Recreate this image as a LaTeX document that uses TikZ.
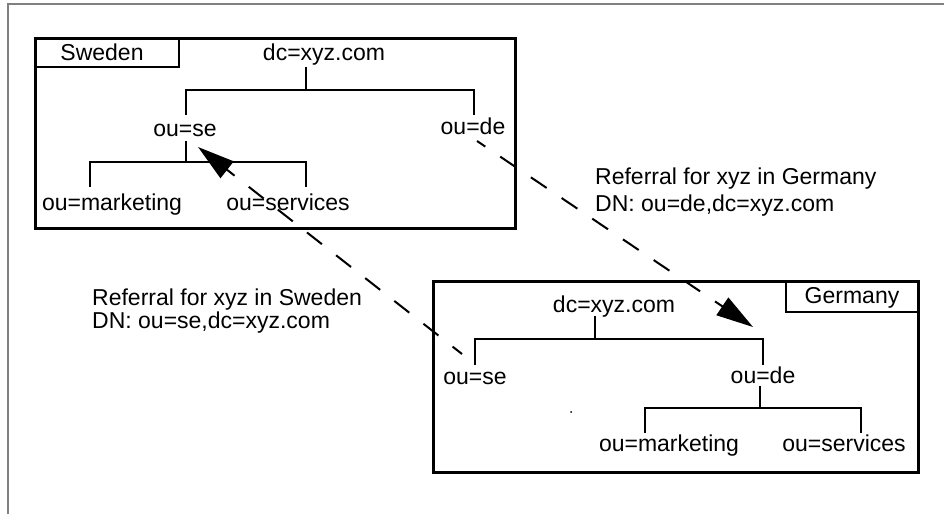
\documentclass[tikz,border=0pt]{standalone}
\usepackage{fontspec}
\setmainfont{Liberation Sans}
\usetikzlibrary{arrows.meta}
\begin{document}
\begin{tikzpicture}[x=1pt,y=-1pt,
  lbl/.style={inner sep=0pt, anchor=base, font=\fontsize{23}{27}\selectfont},
  boxline/.style={line width=3pt},
  tabline/.style={line width=2pt},
  treeline/.style={line width=2pt},
  refline/.style={line width=2pt, dash pattern=on 19pt off 18pt, -{Triangle[length=37pt,width=21pt]}},
  frameline/.style={line width=2pt, draw=black!50}
]
\useasboundingbox (0,0) rectangle (944,514);
\draw[frameline] (8,514) -- (8,4) -- (944,4);

% ---------- Sweden ----------
\draw[boxline] (35,38) rectangle (515,228);
\draw[tabline] (35,38) rectangle (179,67);
\node[lbl] (swe) at (102,60) {Sweden};
\node[lbl] (dcS) at (324,60) {dc=xyz.com};
\node[lbl] (ouseS) at (185,136) {ou=se};
\node[lbl] (oudeS) at (473,134) {ou=de};
\node[lbl] (omkS) at (112,210) {ou=marketing};
\node[lbl] (osvS) at (288,210) {ou=services};
\coordinate (dcSb) at (306,67);
\coordinate (barS1) at (306,90);
\draw[treeline] (dcSb) -- (barS1);
\draw[treeline] (186,115) -- (186,90) -- (474,90) -- (474,115);
\draw[treeline] (186,141) -- (186,162);
\draw[treeline] (90,187) -- (90,162) -- (306,162) -- (306,187);

% ---------- Germany ----------
\draw[boxline] (433,281) rectangle (918,472);
\draw[tabline] (786,281) rectangle (918,312);
\node[lbl] (ger) at (852,303) {Germany};
\node[lbl] (dcG) at (614,312) {dc=xyz.com};
\node[lbl] (ouseG) at (475,384) {ou=se};
\node[lbl] (oudeG) at (763,383) {ou=de};
\node[lbl] (omkG) at (669,451) {ou=marketing};
\node[lbl] (osvG) at (844,451) {ou=services};
\draw[treeline] (595,316) -- (595,339);
\draw[treeline] (475,365) -- (475,339) -- (763,339) -- (763,365);
\draw[treeline] (760,386) -- (760,408);
\draw[treeline] (645,433) -- (645,408) -- (861,408) -- (861,433);
\fill (571,412) circle (1pt);

% ---------- referral labels ----------
\node[lbl, anchor=base west] (refG1) at (595,184) {Referral for xyz in Germany};
\node[lbl, anchor=base west] (refG2) at (595,211) {DN: ou=de,dc=xyz.com};
\node[lbl, anchor=base west] (refS1) at (92,305) {Referral for xyz in Sweden};
\node[lbl, anchor=base west] (refS2) at (92,328) {DN: ou=se,dc=xyz.com};

% ---------- referral arrows ----------
\coordinate (g1) at (477,141);
\coordinate (g2) at (753,327);
\coordinate (s1) at (462,354);
\coordinate (s2) at (198,147);
\draw[refline, dash phase=9pt] (g1) -- (g2);
\draw[refline, dash phase=7pt] (s1) -- (s2);
\end{tikzpicture}
\end{document}
